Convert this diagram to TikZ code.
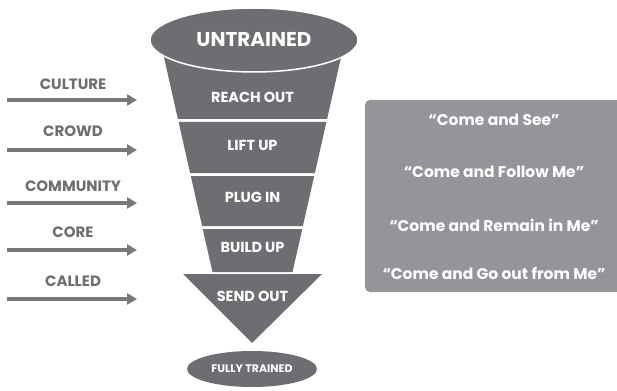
\documentclass[tikz,border=0pt]{standalone}
\usepackage{fontspec}
\setmainfont{Poppins}
\usetikzlibrary{arrows.meta,shapes.geometric}
\definecolor{funnel}{HTML}{6D6E71}
\definecolor{boxgray}{HTML}{939598}
\definecolor{arrowgray}{HTML}{77787B}
\tikzset{
  sect/.style={fill=funnel,draw=none},
  sectlabel/.style={text=white,font=\bfseries\fontsize{14.5}{16}\selectfont,inner sep=0pt},
  sidelabel/.style={text=funnel,font=\bfseries\fontsize{15}{17}\selectfont,inner sep=0pt},
  sidearrow/.style={draw=arrowgray,line width=3.4pt,-{Triangle[length=10pt,width=11pt]}},
  quote/.style={text=white,font=\bfseries\fontsize{15.5}{17}\selectfont,inner sep=0pt}
}
\begin{document}
\begin{tikzpicture}[x=1pt,y=-1pt]
\useasboundingbox (0,0) rectangle (617,390);
% funnel sections
\path[sect] (162.3,50) -- (342.7,50) -- (327.1,119) -- (177.9,119) -- cycle;
\path[sect] (178.6,122) -- (326.4,122) -- (314.9,173) -- (190.1,173) -- cycle;
\path[sect] (190.8,176) -- (314.2,176) -- (302.9,226) -- (202.1,226) -- cycle;
\path[sect] (202.7,229) -- (302.3,229) -- (292.5,272) -- (212.5,272) -- cycle;
\path[sect] (183,274) -- (322,274) -- (252,343) -- cycle;
% top ellipse
\node[draw=white,line width=1.5pt,fill=funnel,ellipse,minimum width=208pt,minimum height=64pt,inner sep=0pt,
  text=white,font=\bfseries\fontsize{20}{22}\selectfont] (untrained) at (254,40) {UNTRAINED};
% bottom ellipse
\node[fill=funnel,ellipse,minimum width=130pt,minimum height=36pt,inner sep=0pt,
  text=white,font=\bfseries\fontsize{11}{12}\selectfont] (fully) at (252,369) {FULLY TRAINED};
% section labels
\node[sectlabel] (reach) at (252.5,97) {REACH OUT};
\node[sectlabel] (lift) at (252.5,145) {LIFT UP};
\node[sectlabel] (plug) at (252.5,197) {PLUG IN};
\node[sectlabel] (build) at (252.5,247) {BUILD UP};
\node[sectlabel] (send) at (252.5,296) {SEND OUT};
% side labels and arrows
\node[sidelabel] (culture) at (73,84) {CULTURE};
\node[sidelabel] (crowd) at (73,131) {CROWD};
\node[sidelabel] (community) at (73,186) {COMMUNITY};
\node[sidelabel] (core) at (73,232) {CORE};
\node[sidelabel] (called) at (73,281) {CALLED};
\coordinate (a1s) at (7,100); \coordinate (a1e) at (137,100);
\coordinate (a2s) at (7,150); \coordinate (a2e) at (137,150);
\coordinate (a3s) at (7,203); \coordinate (a3e) at (137,203);
\coordinate (a4s) at (7,250); \coordinate (a4e) at (137,250);
\coordinate (a5s) at (7,299); \coordinate (a5e) at (137,299);
\draw[sidearrow] (a1s) -- (a1e);
\draw[sidearrow] (a2s) -- (a2e);
\draw[sidearrow] (a3s) -- (a3e);
\draw[sidearrow] (a4s) -- (a4e);
\draw[sidearrow] (a5s) -- (a5e);
% right box
\path[fill=boxgray,rounded corners=5pt] (365,100) rectangle (625,292);
\node[quote] (q1) at (494,120) {“Come and See”};
\node[quote] (q2) at (494,172) {“Come and Follow Me”};
\node[quote] (q3) at (494,225) {“Come and Remain in Me”};
\node[quote] (q4) at (494,273) {“Come and Go out from Me”};
\end{tikzpicture}
\end{document}
